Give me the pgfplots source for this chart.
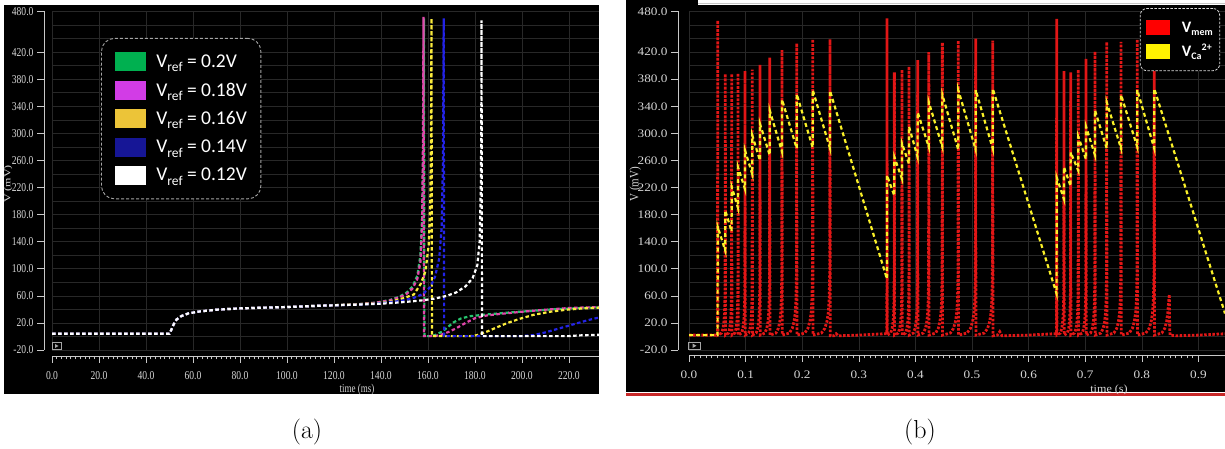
\documentclass[border=0pt]{standalone}
\usepackage{pgfplots}
\pgfplotsset{compat=1.18}
\usepackage{graphicx}
\usepackage{fontspec}
\newfontfamily\tickfont{Liberation Serif}
\newfontfamily\legfont{Carlito}

\definecolor{axgray}{RGB}{200,200,200}
\definecolor{labgray}{RGB}{215,215,215}
\definecolor{gridgray}{RGB}{40,40,40}
\definecolor{boxgray}{RGB}{165,165,165}
\definecolor{cGreen}{RGB}{40,195,110}
\definecolor{cPink}{RGB}{225,70,170}
\definecolor{cYel}{RGB}{250,235,60}
\definecolor{cBlue}{RGB}{35,35,230}
\definecolor{lGreen}{RGB}{0,176,80}
\definecolor{lPink}{RGB}{210,60,230}
\definecolor{lYel}{RGB}{236,196,56}
\definecolor{lBlue}{RGB}{22,22,150}
\definecolor{vmem}{RGB}{225,22,22}
\definecolor{vca}{RGB}{250,240,40}
\definecolor{baseRed}{RGB}{200,40,40}

\newcommand\subA[1]{\raisebox{-4.5pt}{\fontsize{13.5}{14}\selectfont #1}}
\newcommand\subB[1]{\raisebox{-3pt}{\fontsize{10}{10}\selectfont #1}}
\newcommand\supB[1]{\raisebox{5.5pt}{\fontsize{10}{10}\selectfont #1}}

\pgfplotsset{
  scope/.style={
    scale only axis,
    axis lines*=left,
    tick align=outside,
    axis line style={axgray, line width=0.8pt},
    tick style={axgray, line width=0.6pt},
    major tick length=7pt,
    minor tick length=3.5pt,
    grid=major,
    major grid style={gridgray, line width=0.6pt},
    ymin=-20, ymax=480,
    ytick={-20,20,...,420,480},
    minor y tick num=4,
    extra y ticks={0,40,...,440,460},
    extra y tick labels={},
    extra y tick style={major tick length=0pt, grid=major},
    /pgf/number format/fixed,
    /pgf/number format/fixed zerofill,
    /pgf/number format/precision=1,
    /pgf/number format/assume math mode=true,
    every tick label/.append style={text=labgray},
    xticklabel style={yshift=-5pt},
    legend cell align=left,
  },
  aline/.style={line width=2.2pt, dash pattern=on 3.5pt off 2.5pt},
}

\begin{document}
\begin{tikzpicture}
\useasboundingbox (0pt,0pt) rectangle (1225pt,449pt);
% panel backgrounds
\fill[black] (4pt,55pt) rectangle (599pt,444pt);
\fill[black] (626pt,57pt) rectangle (1225pt,444pt);
\fill[black] (626pt,444pt) rectangle (698pt,449pt);
\draw[gray!45, line width=1pt] (698pt,445pt) -- (1225pt,445pt);
\fill[baseRed] (626pt,52.5pt) rectangle (1225pt,56pt);

% ---------------- (a) ----------------
\begin{axis}[scope,
  at={(52pt,99pt)}, anchor=south west,
  width=547pt, height=338.5pt,
  xmin=0, xmax=232.8,
  xtick={0,20,...,220}, minor x tick num=9,
  axis x line shift=6pt, axis y line shift=8pt,
  xticklabel={\scalebox{0.8}[1]{\pgfmathprintnumber{\tick}}},
  yticklabel={\scalebox{0.8}[1]{\pgfmathprintnumber{\tick}}},
  every tick label/.append style={font=\tickfont\fontsize{12}{13}\selectfont},
  xlabel={\scalebox{0.75}[1]{time (ms)}},
  ylabel={\scalebox{1}[0.75]{V (mV)}},
  xlabel style={at={(axis description cs:0.5576,-0.118)}, anchor=center,
    font=\tickfont\fontsize{12}{13}\selectfont, text=labgray},
  ylabel style={at={(axis description cs:-0.08,0.49)}, anchor=center,
    font=\tickfont\fontsize{12}{13}\selectfont, text=labgray},
  legend image code/.code={\fill[#1, sharp corners] (0pt,-10pt) rectangle (32pt,10pt);},
  legend style={at={(axis description cs:0.0896,0.922)}, anchor=north west,
    draw=boxgray, dash pattern=on 3pt off 2pt, line width=0.9pt,
    rounded corners=13pt, fill=black, text=white,
    font=\legfont\fontsize{19.5}{22}\selectfont,
    nodes={inner xsep=1pt},
    inner xsep=13pt, inner ysep=13pt, row sep=7.5pt, column sep=8pt},
]
\addlegendimage{fill=lGreen}
\addlegendentry{V\subA{ref} = 0.2V}
\addlegendimage{fill=lPink}
\addlegendentry{V\subA{ref} = 0.18V}
\addlegendimage{fill=lYel}
\addlegendentry{V\subA{ref} = 0.16V}
\addlegendimage{fill=lBlue}
\addlegendentry{V\subA{ref} = 0.14V}
\addlegendimage{fill=white}
\addlegendentry{V\subA{ref} = 0.12V}

% Vref = 0.2 V
\addplot[aline, cGreen, forget plot] coordinates {
(0,4) (50,4) (50.8,10) (51.8,18) (53,25) (55,30) (58,34) (63,37) (70,39.5)
(80,41.5) (90,42.5) (100,43.5) (115,45.5) (130,47.5) (138,50) (144,54)
(148,59) (151,65) (153.5,74) (155.5,90) (156.8,120) (157.6,180) (158.1,300)
(158.3,470) (158.5,0.5) (161,0.5) (163,2) (166,7) (168.5,14) (171,21)
(174,26.5) (178,30) (185,32.5) (195,35.5) (205,38) (215,40.5) (225,42) (232.8,43)
};
% Vref = 0.18 V
\addplot[aline, cPink, forget plot] coordinates {
(0,4) (50,4) (50.8,10) (51.8,18) (53,25) (55,30) (58,34) (63,37) (70,39.5)
(80,41.5) (90,42.5) (100,43.5) (115,45.5) (130,47.5) (138,50) (144,53.5)
(148,58) (151,63) (153.5,71) (155.5,85) (156.8,110) (157.5,170) (157.9,300)
(158.1,472) (158.3,0.5) (163,0.5) (166,3) (169,7) (172,12) (176,20) (180,27)
(185,31) (190,33) (200,36.5) (210,39.5) (220,42) (232.8,43.5)
};
% Vref = 0.16 V
\addplot[aline, cYel, forget plot] coordinates {
(0,4) (50,4) (50.8,10) (51.8,18) (53,25) (55,30) (58,34) (63,37) (70,39.5)
(80,41.5) (90,42.5) (100,43.5) (115,45.5) (130,47.5) (138,49) (145,52)
(150,57) (154,62) (157,78) (159,97) (160.3,135) (161,200) (161.3,300)
(161.5,470) (161.7,0.5) (178,0.5) (181,2) (185,7) (189,13) (193.5,19.5)
(199,26) (205,32) (212,36.5) (219,39.5) (226,41.5) (232.8,42.5)
};
% Vref = 0.14 V
\addplot[aline, cBlue, forget plot] coordinates {
(0,4) (50,4) (50.8,10) (51.8,18) (53,25) (55,30) (58,34) (63,37) (70,39.5)
(80,41.5) (90,42.5) (100,43.5) (115,45.5) (130,47) (138,48.5) (145,51)
(150,53.5) (154,57) (158,63) (161,73) (163,88) (164.8,115) (165.8,160)
(166.4,260) (166.7,470) (166.9,0.5) (200,0.5) (205,2) (210,6) (216,12)
(222,18) (228,24) (232.8,28)
};
% Vref = 0.12 V
\addplot[aline, white, forget plot] coordinates {
(0,4) (50,4) (50.8,10) (51.8,18) (53,25) (55,30) (58,34) (63,37) (70,39.5)
(80,41.5) (90,42.5) (100,43.5) (115,45.5) (130,47) (138,48) (145,49.5)
(152,51.5) (158,53.5) (163,56) (168,60) (172,65) (176,74) (179,86) (181,105)
(182,140) (182.5,220) (182.7,300) (182.8,467) (183,0.5) (220,0.5) (224,1.5)
(232.8,2.5)
};
\end{axis}

% ---------------- (b) ----------------
\begin{axis}[scope,
  at={(689pt,99pt)}, anchor=south west,
  width=536pt, height=338.5pt,
  xmin=0, xmax=0.947,
  xtick={0,0.1,0.2,0.3,0.4,0.5,0.6,0.7,0.8,0.9}, minor x tick num=9,
  axis x line shift=5pt, axis y line shift=11pt,
  xticklabel={\scalebox{1.15}[1]{\pgfmathprintnumber{\tick}}},
  yticklabel={\scalebox{1.15}[1]{\pgfmathprintnumber{\tick}}},
  every tick label/.append style={font=\tickfont\fontsize{11.5}{12}\selectfont},
  xlabel={\scalebox{1.1}[1]{time (s)}},
  ylabel={\scalebox{1}[1.15]{V (mV)}},
  xlabel style={at={(axis description cs:0.7836,-0.118)}, anchor=center,
    font=\tickfont\fontsize{11}{12}\selectfont, text=labgray},
  ylabel style={at={(axis description cs:-0.1,0.49)}, anchor=center,
    font=\tickfont\fontsize{11}{12}\selectfont, text=labgray},
  legend image code/.code={\fill[#1, sharp corners] (0pt,-8pt) rectangle (25pt,8pt);},
  legend style={at={(axis description cs:0.841,1.0103)}, anchor=north west,
    draw=white!85!black, dash pattern=on 2.5pt off 1.5pt, line width=0.8pt,
    rounded corners=7pt, fill=black, text=white,
    font=\legfont\bfseries\fontsize{16}{17}\selectfont,
    inner xsep=5pt, inner ysep=11pt, row sep=6pt, column sep=9pt},
]
\addlegendimage{fill=red}
\addlegendentry{V\subB{mem}}
\addlegendimage{fill=yellow}
\addlegendentry{V\subB{Ca}\supB{2+}}

% V_mem
\addplot[vmem, line width=2.8pt, dash pattern=on 2.5pt off 1.6pt, forget plot] coordinates {
(0,2) (0.0505,2) (0.0507,467)
(0.0511,2) (0.0574,5) (0.0601,12) (0.0617,22) (0.0628,35) (0.0634,55) (0.0638,90) (0.0641,388)
(0.0645,2) (0.0698,5) (0.0720,12) (0.0734,22) (0.0743,35) (0.0748,55) (0.0752,90) (0.0754,388)
(0.0758,2) (0.0810,5) (0.0832,12) (0.0846,22) (0.0855,35) (0.0860,55) (0.0864,90) (0.0866,389)
(0.0870,2) (0.0928,5) (0.0952,12) (0.0967,22) (0.0977,35) (0.0983,55) (0.0987,90) (0.0989,392)
(0.0993,2) (0.1054,5) (0.1079,12) (0.1095,22) (0.1105,35) (0.1112,55) (0.1115,90) (0.1118,394)
(0.1122,2) (0.1186,5) (0.1213,12) (0.1230,22) (0.1240,35) (0.1247,55) (0.1251,90) (0.1254,401)
(0.1258,2) (0.1340,5) (0.1374,12) (0.1395,22) (0.1409,35) (0.1417,55) (0.1423,90) (0.1426,412)
(0.1430,2) (0.1535,5) (0.1578,12) (0.1604,22) (0.1621,35) (0.1632,55) (0.1639,90) (0.1643,423)
(0.1647,2) (0.1773,5) (0.1825,12) (0.1856,22) (0.1877,35) (0.1890,55) (0.1898,90) (0.1903,433)
(0.1907,2) (0.2045,5) (0.2101,12) (0.2135,22) (0.2158,35) (0.2172,55) (0.2180,90) (0.2186,439)
(0.2190,2) (0.2339,5) (0.2400,12) (0.2436,22) (0.2461,35) (0.2476,55) (0.2485,90) (0.2491,439)
(0.2495,1) (0.2560,1) (0.2600,4) (0.2640,1) (0.3000,2) (0.3450,4) (0.3496,4) (0.3498,470)
(0.3502,2) (0.3563,5) (0.3589,12) (0.3605,22) (0.3615,35) (0.3622,55) (0.3625,90) (0.3628,390)
(0.3632,2) (0.3696,5) (0.3723,12) (0.3739,22) (0.3750,35) (0.3756,55) (0.3760,90) (0.3763,394)
(0.3767,2) (0.3825,5) (0.3850,12) (0.3865,22) (0.3875,35) (0.3881,55) (0.3885,90) (0.3887,399)
(0.3891,2) (0.3964,5) (0.3994,12) (0.4012,22) (0.4025,35) (0.4032,55) (0.4037,90) (0.4040,408)
(0.4044,2) (0.4139,5) (0.4178,12) (0.4202,22) (0.4217,35) (0.4227,55) (0.4233,90) (0.4237,420)
(0.4241,2) (0.4357,5) (0.4404,12) (0.4433,22) (0.4452,35) (0.4464,55) (0.4471,90) (0.4476,434)
(0.4480,2) (0.4617,5) (0.4673,12) (0.4707,22) (0.4730,35) (0.4744,55) (0.4752,90) (0.4758,437)
(0.4762,2) (0.4912,5) (0.4973,12) (0.5010,22) (0.5034,35) (0.5050,55) (0.5059,90) (0.5065,440)
(0.5069,2) (0.5216,5) (0.5276,12) (0.5312,22) (0.5336,35) (0.5351,55) (0.5360,90) (0.5366,437)
(0.5370,1) (0.5450,2) (0.5490,7) (0.5530,1) (0.6000,2) (0.6450,4) (0.6494,4) (0.6496,469)
(0.6500,2) (0.6561,5) (0.6586,12) (0.6602,22) (0.6612,35) (0.6619,55) (0.6622,90) (0.6625,392)
(0.6629,2) (0.6684,5) (0.6708,12) (0.6722,22) (0.6731,35) (0.6737,55) (0.6741,90) (0.6743,390)
(0.6747,2) (0.6811,5) (0.6838,12) (0.6854,22) (0.6865,35) (0.6871,55) (0.6875,90) (0.6878,394)
(0.6882,2) (0.6946,5) (0.6973,12) (0.6990,22) (0.7000,35) (0.7007,55) (0.7011,90) (0.7014,410)
(0.7018,2) (0.7094,5) (0.7125,12) (0.7144,22) (0.7157,35) (0.7165,55) (0.7170,90) (0.7173,421)
(0.7177,2) (0.7277,5) (0.7318,12) (0.7343,22) (0.7359,35) (0.7370,55) (0.7376,90) (0.7380,435)
(0.7384,2) (0.7507,5) (0.7557,12) (0.7587,22) (0.7608,35) (0.7620,55) (0.7628,90) (0.7633,435)
(0.7637,2) (0.7777,5) (0.7834,12) (0.7868,22) (0.7891,35) (0.7906,55) (0.7914,90) (0.7920,439)
(0.7924,2) (0.8070,5) (0.8130,12) (0.8166,22) (0.8190,35) (0.8205,55) (0.8214,90) (0.8220,439)
(0.8224,2) (0.8353,5) (0.8406,12) (0.8438,22) (0.8459,35) (0.8473,50) (0.8486,62)
(0.8493,8) (0.8500,2) (0.8600,1) (0.9000,2) (0.9470,4)
};
% V_Ca2+
\addplot[vca, line width=2.2pt, dash pattern=on 4pt off 3pt, forget plot] coordinates {
(0,2) (0.0505,2) (0.0507,162) (0.0640,127) (0.0641,186) (0.0753,155) (0.0754,221)
(0.0865,190) (0.0866,250) (0.0988,218) (0.0989,275) (0.1117,240) (0.1118,297)
(0.1253,260) (0.1254,314) (0.1425,268) (0.1426,334) (0.1642,273) (0.1643,350)
(0.1902,278) (0.1903,358) (0.2185,279) (0.2186,364) (0.2490,278) (0.2491,363)
(0.3497,85) (0.3498,238) (0.3627,208) (0.3628,265) (0.3762,233) (0.3763,285)
(0.3886,255) (0.3887,310) (0.4039,265) (0.4040,331) (0.4236,280) (0.4237,346)
(0.4475,280) (0.4476,357) (0.4757,276) (0.4758,364) (0.5064,276) (0.5065,364)
(0.5365,278) (0.5366,366) (0.6495,63) (0.6496,235) (0.6624,203) (0.6625,250)
(0.6742,222) (0.6743,272) (0.6877,245) (0.6878,295) (0.7013,262) (0.7014,310)
(0.7172,268) (0.7173,334) (0.7379,278) (0.7380,346) (0.7632,278) (0.7633,357)
(0.7919,280) (0.7920,364) (0.8219,278) (0.8220,366) (0.9470,34)
};
\end{axis}

% play icons
\draw[boxgray, line width=0.7pt] (52.5pt,99.5pt) rectangle (61pt,106.5pt);
\fill[boxgray] (55pt,101pt) -- (55pt,105pt) -- (58.5pt,103pt) -- cycle;
\draw[boxgray, line width=0.7pt] (688.5pt,99.5pt) rectangle (700.5pt,107pt);
\fill[boxgray] (692.5pt,101pt) -- (692.5pt,105.5pt) -- (696.5pt,103.2pt) -- cycle;

% captions
\node[font=\fontsize{26}{30}\selectfont] at (307pt,17pt) {(a)};
\node[font=\fontsize{26}{30}\selectfont] at (920pt,17pt) {(b)};
\end{tikzpicture}
\end{document}
